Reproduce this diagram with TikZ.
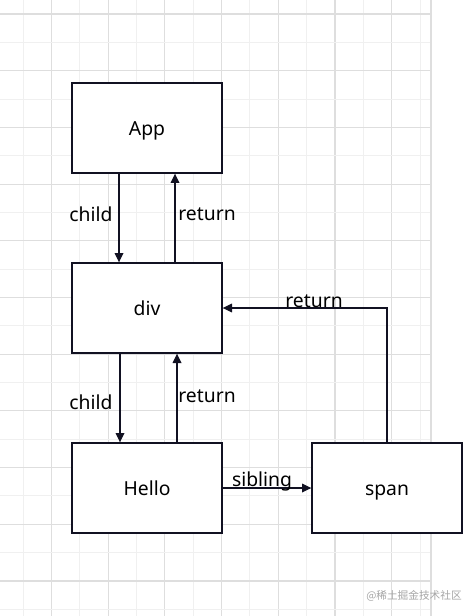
\documentclass[tikz,border=0pt]{standalone}
\usepackage{fontspec}
\setmainfont{Noto Sans}
\newfontfamily\cjk{Noto Sans CJK SC}
\usetikzlibrary{arrows.meta}
\definecolor{ink}{HTML}{111122}
\definecolor{gmaj}{HTML}{DEDEDE}
\definecolor{gmin}{HTML}{F0F0F0}
\tikzset{
  box/.style={draw=ink, line width=1pt, fill=white, minimum width=112.5pt, minimum height=67.5pt, inner sep=0pt, text height=11pt, text depth=0pt, font=\fontsize{14.5}{16}\selectfont},
  arr/.style={draw=ink, line width=0.9pt, -{Triangle[length=7pt,width=6.5pt]}},
  lbl/.style={font=\fontsize{14.5}{16}\selectfont, inner sep=0pt, text=black}
}
\begin{document}
\begin{tikzpicture}[x=0.75pt,y=-0.75pt]
\useasboundingbox (0,0) rectangle (475,616);
\fill[white] (0,0) rectangle (475,616);
% grid
\begin{scope}
\clip (0,0) rectangle (431.5,616);
\foreach \k in {-1,...,14}{
  \pgfmathsetmacro\xx{23.15+28.35*\k}
  \pgfmathparse{mod(\k+2,2)==1 ? "gmaj" : "gmin"}
  \draw[\pgfmathresult, line width=0.8pt] (\xx,0) -- (\xx,616);
}
\foreach \k in {-1,...,21}{
  \pgfmathsetmacro\yy{14+28.35*\k}
  \pgfmathparse{mod(\k+2,2)==0 ? "gmaj" : "gmin"}
  \draw[\pgfmathresult, line width=0.8pt] (0,\yy) -- (431.5,\yy);
}
\end{scope}
\draw[gmaj, line width=0.8pt] (431,0) -- (431,616);
% boxes
\node[box] (App) at (147,128) {App};
\node[box] (div) at (147,308) {div};
\node[box] (Hello) at (147,488) {Hello};
\node[box] (span) at (387,488) {span};
% connectors
\draw[arr] (App.south -| 119,0) -- (div.north -| 119,0);
\draw[arr] (div.north -| 175,0) -- (App.south -| 175,0);
\draw[arr] (div.south -| 120,0) -- (Hello.north -| 120,0);
\draw[arr] (Hello.north -| 177,0) -- (div.south -| 177,0);
\draw[arr] (Hello.east) -- (span.west);
\draw[arr] (span.north -| 387,0) |- (div.east);
% labels
\node[lbl] (l1) at (91,214) {child};
\node[lbl] (l2) at (207,214) {return};
\node[lbl] (l3) at (91,402) {child};
\node[lbl] (l4) at (207,396) {return};
\node[lbl] (l5) at (314,301) {return};
\node[lbl] (l6) at (262,481) {sibling};
% watermark
\node[font=\cjk\fontsize{8}{9}\selectfont, text=black!35, inner sep=0pt] (wm) at (414,596) {@稀土掘金技术社区};
\end{tikzpicture}
\end{document}
